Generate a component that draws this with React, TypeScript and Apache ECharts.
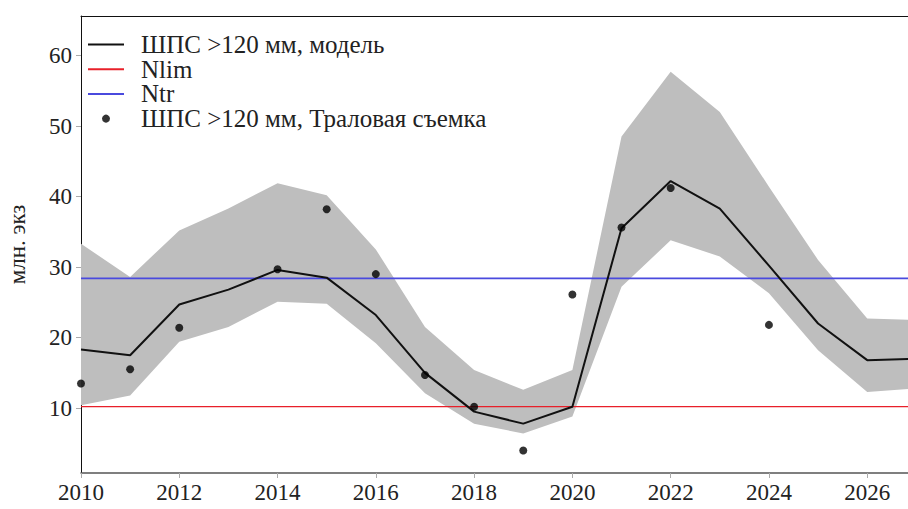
import { useEffect, useRef } from "react";
import * as echarts from "echarts";

const years = [2010, 2011, 2012, 2013, 2014, 2015, 2016, 2017, 2018, 2019, 2020, 2021, 2022, 2023, 2024, 2025, 2026, 2027];
const modelValues = [18.3, 17.5, 24.7, 26.8, 29.6, 28.5, 23.2, 15.0, 9.5, 7.8, 10.2, 35.5, 42.2, 38.3, 30.2, 22.0, 16.8, 17.0];
const bandUpper = [33.3, 28.6, 35.2, 38.3, 41.9, 40.2, 32.5, 21.5, 15.4, 12.6, 15.4, 48.5, 57.7, 52.0, 41.4, 31.0, 22.7, 22.5];
const bandLower = [10.4, 11.8, 19.4, 21.5, 25.1, 24.8, 19.2, 12.1, 7.8, 6.4, 8.8, 27.2, 33.8, 31.5, 26.3, 18.2, 12.3, 12.8];
const surveyYears = [2010, 2011, 2012, 2014, 2015, 2016, 2017, 2018, 2019, 2020, 2021, 2022, 2024];
const surveyValues = [13.5, 15.5, 21.4, 29.7, 38.2, 29.0, 14.7, 10.2, 4.0, 26.1, 35.6, 41.2, 21.8];
const NLIM = 10.2;
const NTR = 28.4;
const yTicks = [10, 20, 30, 40, 50, 60];
const xTicks = [2010, 2012, 2014, 2016, 2018, 2020, 2022, 2024, 2026];

const MODEL = "ШПС >120 мм, модель";
const SURVEY = "ШПС >120 мм, Траловая съемка";
const FONT = "'Liberation Serif', 'DejaVu Serif', serif";

export default function App() {
  const ref = useRef<HTMLDivElement>(null);
  useEffect(() => {
    if (!ref.current) return;
    const chart = echarts.init(ref.current, null, { renderer: "svg" });
    const xMin = 2010;
    const xMax = 2026.83;
    const yMin = 0.8;
    const yMax = 65.6;
    const hiddenSymbol = { opacity: 0 };
    chart.setOption({
      animation: false,
      backgroundColor: "#ffffff",
      textStyle: { fontFamily: FONT },
      grid: {
        left: 81,
        right: 0,
        top: 16,
        bottom: 36,
        outerBoundsMode: "none",
        containLabel: false,
      },
      legend: {
        data: [
          { name: MODEL, itemStyle: hiddenSymbol },
          { name: "Nlim", itemStyle: hiddenSymbol },
          { name: "Ntr", itemStyle: hiddenSymbol },
          { name: SURVEY },
        ],
        orient: "vertical",
        left: 87,
        top: 32,
        padding: 0,
        itemWidth: 36,
        itemHeight: 8,
        itemGap: -0.3,
        textStyle: { fontFamily: FONT, fontSize: 25, color: "#222", lineHeight: 20, padding: [0, 0, 0, 12] },
      },
      xAxis: [
        {
          type: "value",
          min: xMin,
          max: xMax,
          axisLine: { show: true, lineStyle: { color: "#555", width: 1.5 } },
          axisTick: { show: true, length: 5, customValues: xTicks, lineStyle: { color: "#aaa" } },
          axisLabel: { fontFamily: FONT, fontSize: 23, color: "#222", margin: 8, customValues: xTicks, formatter: (v: number) => String(v) },
          splitLine: { show: false },
        },
        {
          type: "value",
          position: "top",
          min: xMin,
          max: xMax,
          axisLine: { show: true, lineStyle: { color: "#111", width: 1 } },
          axisTick: { show: false },
          axisLabel: { show: false },
          splitLine: { show: false },
        },
      ],
      yAxis: {
        type: "value",
        min: yMin,
        max: yMax,
        name: "млн. экз",
        nameLocation: "middle",
        nameGap: 52,
        nameTextStyle: { fontFamily: FONT, fontSize: 23, color: "#222" },
        axisLine: { show: true, lineStyle: { color: "#111", width: 1 } },
        axisTick: { show: true, length: 5, customValues: yTicks, lineStyle: { color: "#aaa" } },
        axisLabel: { fontFamily: FONT, fontSize: 23, color: "#222", margin: 9, customValues: yTicks },
        splitLine: { show: false },
      },
      series: [
        {
          name: "band",
          type: "custom",
          clip: true,
          z: 1,
          data: years.map((y, i) => [y, bandLower[i], bandUpper[i]]),
          encode: { x: 0, y: [1, 2] },
          renderItem: (params: any, api: any) => {
            if (params.dataIndex !== 0) return null;
            const pts: number[][] = [];
            for (let i = 0; i < years.length; i++) pts.push(api.coord([years[i], bandUpper[i]]));
            for (let i = years.length - 1; i >= 0; i--) pts.push(api.coord([years[i], bandLower[i]]));
            return { type: "polygon", shape: { points: pts }, style: { fill: "#bebebe", stroke: "none" } };
          },
        },
        {
          name: "Nlim",
          type: "line",
          symbol: "none",
          color: "#e8202a",
          lineStyle: { color: "#e8202a", width: 1.3 },
          data: [[2010, NLIM], [2027, NLIM]],
          z: 2,
        },
        {
          name: "Ntr",
          type: "line",
          symbol: "none",
          color: "#4a4ade",
          lineStyle: { color: "#4a4ade", width: 1.6 },
          data: [[2010, NTR], [2027, NTR]],
          z: 2,
        },
        {
          name: MODEL,
          type: "line",
          symbol: "none",
          color: "#111",
          lineStyle: { color: "#111", width: 2 },
          data: years.map((y, i) => [y, modelValues[i]]),
          z: 3,
        },
        {
          name: SURVEY,
          type: "scatter",
          symbol: "circle",
          symbolSize: 8,
          color: "#000",
          itemStyle: { color: "#000" },
          data: surveyYears.map((y, i) => [y, surveyValues[i]]),
          z: 4,
        },
      ],
    });
    return () => chart.dispose();
  }, []);
  return <div ref={ref} style={{ width: 908, height: 509, position: "absolute", left: 0, top: 0 }} />;
}
